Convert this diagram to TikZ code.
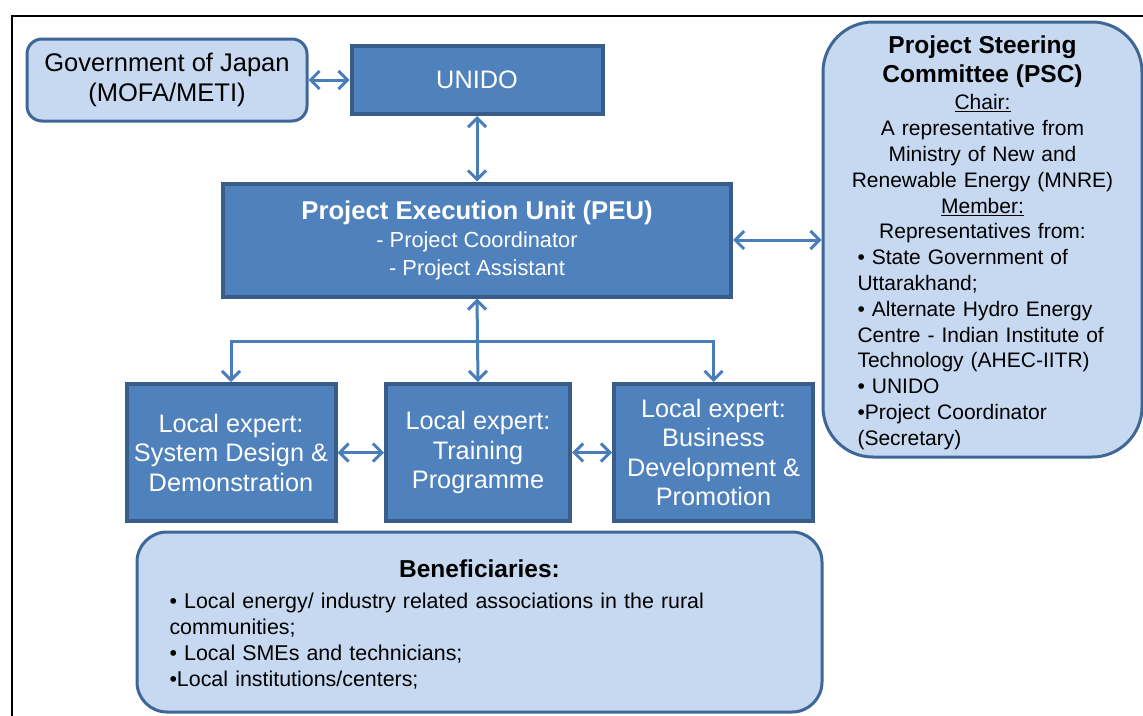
\documentclass[tikz,border=0pt]{standalone}
\usepackage{fontspec}
\setmainfont{Liberation Sans}
\usetikzlibrary{arrows.meta}

\definecolor{darkfill}{HTML}{4F81BD}
\definecolor{darkline}{HTML}{385D8A}
\definecolor{lightfill}{HTML}{C6D9F1}
\definecolor{lightline}{HTML}{3E6797}
\definecolor{linkcol}{HTML}{4A7EBB}

\begin{document}
\begin{tikzpicture}[x=1pt,y=-1pt,
  darkbox/.style={draw=darkline, fill=darkfill, line width=4pt, text=white,
    align=center, inner sep=2pt, font=\fontsize{25.3}{29.5}\selectfont},
  lightbox/.style={draw=lightline, fill=lightfill, line width=3pt, text=black},
  conn/.style={draw=linkcol, line width=3pt,
    arrows={Straight Barb[length=9pt,width=18pt]-Straight Barb[length=9pt,width=18pt]}},
  oneway/.style={draw=linkcol, line width=3pt,
    arrows={-Straight Barb[length=9pt,width=18pt]}}]

% page extent and the frame lines
\useasboundingbox (0,0) rectangle (1143,715);
\draw[black, line width=2pt] (12,716) -- (12,16) -- (1144,16);

% top row
\node[lightbox, rounded corners=15pt, minimum width=280pt, minimum height=82pt,
  align=center, inner sep=2pt, font=\fontsize{25.5}{30}\selectfont]
  (gov) at (167,80) {Government of Japan\\(MOFA/METI)};
\node[darkbox, minimum width=251pt, minimum height=68pt] (unido) at (477,80) {UNIDO};

% execution unit
\node[darkbox, minimum width=508pt, minimum height=113pt] (peu) at (477,240)
  {{\fontsize{25.7}{28}\selectfont\bfseries Project Execution Unit (PEU)}\\[-1pt]
   {\fontsize{21.8}{26}\selectfont - Project Coordinator}\\[-2pt]
   {\fontsize{21.8}{26}\selectfont - Project Assistant}};

% steering committee
\node[lightbox, rounded corners=50pt, minimum width=319pt, minimum height=435pt,
  text width=268pt, inner xsep=25.5pt, inner ysep=2pt,
  font=\fontsize{21}{25.8}\selectfont] (psc) at (982.5,239.5)
  {{\fontsize{24.5}{29}\selectfont\bfseries\centering Project Steering\\Committee (PSC)\par}
   \vspace{2pt}
   {\centering \underline{Chair:}\\
    A representative from\\
    Ministry of New and\\
    Renewable Energy (MNRE)\\
    \underline{Member:}\\
    Representatives from:\par}
   {\raggedright\leftskip=9pt
    • State Government of\\
    Uttarakhand;\\
    • Alternate Hydro Energy\\
    Centre - Indian Institute of\\
    Technology (AHEC-IITR)\\
    • UNIDO\\
    •Project Coordinator\\
    (Secretary)\par}
   \vspace{-6pt}};

% local experts
\node[darkbox, minimum width=209pt, minimum height=137pt] (e1) at (231,452.5)
  {Local expert:\\System Design \&\\Demonstration};
\node[darkbox, minimum width=184pt, minimum height=137pt] (e2) at (478,452.5)
  {Local expert:\\Training\\Programme};
\node[darkbox, minimum width=199pt, minimum height=137pt] (e3) at (713.5,452.5)
  {Local expert:\\Business\\Development \&\\Promotion};

% beneficiaries
\node[lightbox, rounded corners=30pt, minimum width=685pt, minimum height=180pt,
  text width=620pt, inner xsep=32.5pt, inner ysep=2pt,
  font=\fontsize{21.4}{26}\selectfont] (ben) at (479.5,622)
  {{\fontsize{24.5}{30}\selectfont\bfseries\centering Beneficiaries:\par}
   \vspace{5pt}
   {\raggedright
    • Local energy/ industry related associations in the rural\\
    communities;\\
    • Local SMEs and technicians;\\
    •Local institutions/centers;\par}
   \vspace{-4pt}};

% connectors
\coordinate (split) at (477,341);
\draw[conn] (gov.east) -- (unido.west);
\draw[conn] (unido.south) -- (peu.north);
\draw[conn] (peu.east) -- (psc.west |- peu.east);
\draw[conn] (peu.south) -- (e2.north);
\draw[oneway] (split) -| (e1.north);
\draw[oneway] (split) -| (e3.north);
\draw[conn] (e1.east) -- (e2.west);
\draw[conn] (e2.east) -- (e3.west);
\end{tikzpicture}
\end{document}
